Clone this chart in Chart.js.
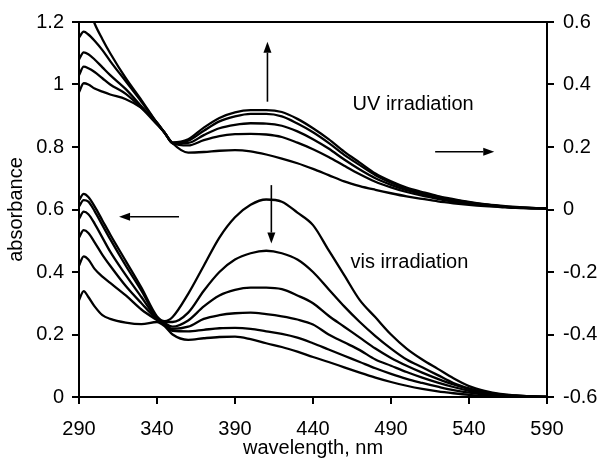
<!DOCTYPE html>
<html><head><meta charset="utf-8">
<script src="https://cdn.jsdelivr.net/npm/chart.js@4.4.1/dist/chart.umd.min.js"></script>
<style>html,body{margin:0;padding:0;background:#fff;}canvas{display:block;}</style>
</head><body>
<canvas id="c" width="600" height="462"></canvas>
<script>
// wavelength (nm)
const wavelengths = [290,293,296,300,305,310,320,330,340,345,350,360,370,380,390,400,410,420,430,440,450,460,470,480,490,500,510,520,530,540,550,560,570,580,590];

// vis irradiation spectra (left axis, absorbance)
const vis1 = [0.63,0.65,0.64,0.61,0.565,0.52,0.435,0.35,0.258,0.243,0.256,0.33,0.42,0.51,0.575,0.615,0.632,0.625,0.59,0.55,0.47,0.39,0.31,0.255,0.2,0.155,0.12,0.09,0.06,0.035,0.02,0.01,0.005,0.002,0.0];
const vis2 = [0.61,0.63,0.625,0.595,0.55,0.505,0.42,0.34,0.255,0.24,0.24,0.27,0.34,0.40,0.44,0.46,0.468,0.46,0.44,0.40,0.345,0.29,0.24,0.195,0.155,0.12,0.095,0.07,0.045,0.028,0.016,0.008,0.004,0.002,0.0];
const vis3 = [0.57,0.593,0.585,0.555,0.51,0.465,0.39,0.32,0.252,0.236,0.225,0.245,0.29,0.325,0.343,0.35,0.35,0.345,0.325,0.30,0.26,0.225,0.19,0.155,0.125,0.1,0.078,0.058,0.04,0.025,0.014,0.007,0.004,0.002,0.0];
const vis4 = [0.51,0.534,0.525,0.495,0.455,0.42,0.355,0.30,0.249,0.233,0.218,0.225,0.25,0.262,0.268,0.27,0.265,0.258,0.248,0.232,0.2,0.175,0.15,0.12,0.1,0.08,0.062,0.046,0.032,0.02,0.011,0.006,0.003,0.001,0.0];
const vis5 = [0.42,0.45,0.44,0.41,0.385,0.365,0.325,0.28,0.246,0.231,0.212,0.21,0.215,0.22,0.221,0.218,0.21,0.202,0.19,0.172,0.152,0.132,0.112,0.092,0.074,0.058,0.045,0.033,0.022,0.014,0.008,0.004,0.002,0.001,0.0];
const vis6 = [0.31,0.339,0.32,0.29,0.262,0.25,0.238,0.233,0.24,0.226,0.2,0.183,0.188,0.192,0.193,0.185,0.172,0.16,0.145,0.128,0.112,0.095,0.078,0.062,0.048,0.036,0.026,0.018,0.012,0.007,0.004,0.002,0.001,0.0,0.0];

// UV irradiation spectra (right axis)
const uv1 = [0.62,0.66,0.65,0.595,0.545,0.50,0.42,0.35,0.277,0.245,0.215,0.225,0.262,0.293,0.311,0.318,0.318,0.312,0.29,0.26,0.225,0.185,0.15,0.115,0.09,0.07,0.056,0.043,0.033,0.024,0.017,0.012,0.008,0.005,0.003];
const uv2 = [0.55,0.569,0.56,0.54,0.51,0.475,0.41,0.345,0.277,0.245,0.213,0.22,0.252,0.282,0.298,0.306,0.306,0.298,0.275,0.247,0.213,0.175,0.142,0.11,0.086,0.067,0.053,0.041,0.031,0.023,0.016,0.011,0.007,0.005,0.003];
const uv3 = [0.48,0.503,0.497,0.48,0.455,0.43,0.385,0.33,0.275,0.245,0.212,0.213,0.238,0.26,0.271,0.276,0.275,0.268,0.25,0.225,0.195,0.16,0.128,0.1,0.079,0.062,0.049,0.038,0.028,0.02,0.014,0.01,0.006,0.004,0.003];
const uv4 = [0.43,0.457,0.452,0.44,0.42,0.40,0.37,0.325,0.272,0.245,0.212,0.205,0.222,0.235,0.241,0.242,0.24,0.232,0.214,0.193,0.168,0.14,0.113,0.089,0.071,0.056,0.044,0.034,0.025,0.018,0.013,0.009,0.006,0.004,0.003];
const uv5 = [0.375,0.404,0.40,0.387,0.377,0.368,0.353,0.325,0.278,0.245,0.212,0.182,0.184,0.188,0.19,0.186,0.176,0.163,0.148,0.13,0.11,0.09,0.075,0.063,0.052,0.042,0.034,0.026,0.02,0.015,0.011,0.008,0.005,0.004,0.003];

// ticks
const xTicks = [290,340,390,440,490,540,590];
const xTickLabels = ['290','340','390','440','490','540','590'];
const leftTicks = [0,0.2,0.4,0.6,0.8,1,1.2];
const leftTickLabels = ['0','0.2','0.4','0.6','0.8','1','1.2'];
const rightTicks = [-0.6,-0.4,-0.2,0,0.2,0.4,0.6];
const rightTickLabels = ['-0.6','-0.4','-0.2','0','0.2','0.4','0.6'];

// annotations (data coordinates: wavelength, left-axis value)
const noteTexts = ['UV irradiation','vis irradiation'];
const notePositions = [[504.2,0.918],[501.8,0.412]];
const arrowPaths = [[410.8,0.945,410.8,1.137],[413.3,0.678,413.3,0.491],[354.1,0.577,315.7,0.577],[518.3,0.785,556.2,0.785]];

const FONT = {family: "'Liberation Sans', Arial, sans-serif", size: 20};
const visSeries = [vis1,vis2,vis3,vis4,vis5,vis6];
const uvSeries = [uv1,uv2,uv3,uv4,uv5];
const toPoints = arr => arr.map((v,i) => ({x: wavelengths[i], y: v}));
const lineStyle = {borderColor:'#000', borderWidth:2.3, pointRadius:0, fill:false, cubicInterpolationMode:'monotone'};
const datasets = [
  ...visSeries.map((s,i) => Object.assign({label:'vis '+(i+1), data: toPoints(s), yAxisID:'y'}, lineStyle)),
  ...uvSeries.map((s,i) => Object.assign({label:'UV '+(i+1), data: toPoints(s), yAxisID:'y2'}, lineStyle))
];

function drawArrow(ctx, x1, y1, x2, y2) {
  const ang = Math.atan2(y2-y1, x2-x1), hl = 11, hw = 4;
  const bx = x2 - hl*Math.cos(ang), by = y2 - hl*Math.sin(ang);
  ctx.beginPath(); ctx.moveTo(x1,y1); ctx.lineTo(bx,by); ctx.lineWidth = 1.6; ctx.stroke();
  ctx.beginPath(); ctx.moveTo(x2,y2);
  ctx.lineTo(bx + hw*Math.sin(ang), by - hw*Math.cos(ang));
  ctx.lineTo(bx - hw*Math.sin(ang), by + hw*Math.cos(ang));
  ctx.closePath(); ctx.fill();
}

const overlay = {
  id: 'overlay',
  afterDraw(chart) {
    const {ctx, chartArea, scales} = chart;
    const xs = scales.x, ys = scales.y;
    ctx.save();
    ctx.strokeStyle = '#000'; ctx.fillStyle = '#000';
    ctx.lineWidth = 2;
    ctx.beginPath(); ctx.moveTo(chartArea.left-1, chartArea.top); ctx.lineTo(chartArea.right+1, chartArea.top); ctx.stroke();
    arrowPaths.forEach(a => drawArrow(ctx, xs.getPixelForValue(a[0]), ys.getPixelForValue(a[1]), xs.getPixelForValue(a[2]), ys.getPixelForValue(a[3])));
    ctx.font = FONT.size + 'px ' + FONT.family;
    ctx.textAlign = 'center'; ctx.textBaseline = 'alphabetic';
    noteTexts.forEach((t,i) => ctx.fillText(t, xs.getPixelForValue(notePositions[i][0]), ys.getPixelForValue(notePositions[i][1])));
    ctx.restore();
  }
};

const axisCommon = {
  grid: {drawOnChartArea:false, tickLength:7, lineWidth:2, color:'#000'},
  border: {display:true, width:2, color:'#000'}
};

new Chart(document.getElementById('c'), {
  type: 'line',
  data: {datasets},
  options: {
    responsive:false, animation:false, devicePixelRatio:1,
    layout: {padding:{top:22,left:0,right:0,bottom:0}},
    plugins: {legend:{display:false}, tooltip:{enabled:false}},
    scales: {
      x: Object.assign({
        type:'linear', position:'bottom', min:290, max:590,
        afterBuildTicks: s => { s.ticks = xTicks.map(v => ({value:v})); },
        afterFit: s => { s.height = 65; },
        ticks: {font:FONT, color:'#000', padding:13, maxRotation:0, autoSkip:false, callback:(v,i) => xTickLabels[i]},
        title: {display:true, text:'wavelength, nm', font:FONT, color:'#000', padding:{top:0,bottom:2}}
      }, axisCommon),
      y: Object.assign({
        type:'linear', position:'left', min:0, max:1.2,
        afterBuildTicks: s => { s.ticks = leftTicks.map(v => ({value:v})); },
        afterFit: s => { s.width = 79; },
        ticks: {font:FONT, color:'#000', padding:8, autoSkip:false, callback:(v,i) => leftTickLabels[i]},
        title: {display:true, text:'absorbance', font:FONT, color:'#000', padding:{top:4,bottom:0}}
      }, axisCommon),
      y2: Object.assign({
        type:'linear', position:'right', min:-0.6, max:0.6,
        afterBuildTicks: s => { s.ticks = rightTicks.map(v => ({value:v})); },
        afterFit: s => { s.width = 53; },
        ticks: {font:FONT, color:'#000', padding:9, autoSkip:false, callback:(v,i) => rightTickLabels[i]}
      }, axisCommon)
    }
  },
  plugins: [overlay]
});
</script>
</body></html>
